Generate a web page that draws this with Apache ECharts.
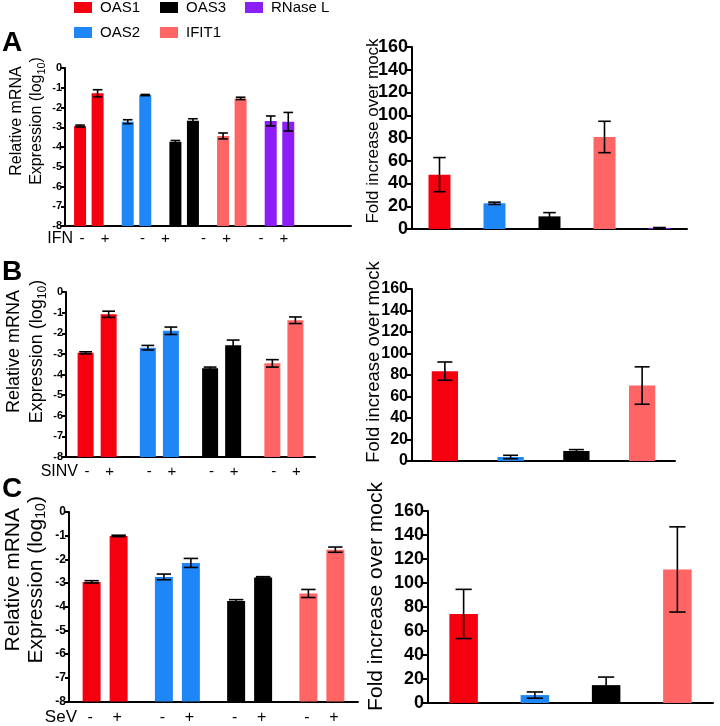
<!DOCTYPE html>
<html>
<head>
<meta charset="utf-8">
<title>OAS / IFIT1 expression</title>
<script src="https://cdn.jsdelivr.net/npm/echarts@6/dist/echarts.min.js"></script>
<style>
  html, body { margin: 0; padding: 0; background: #fff; }
  #chart { width: 720px; height: 726px; }
</style>
</head>
<body>
<div id="chart"></div>
<script>
// genes per panel
var genesA = ['OAS1', 'OAS2', 'OAS3', 'IFIT1', 'RNase L'];
var genesBC = ['OAS1', 'OAS2', 'OAS3', 'IFIT1'];
var treatments = ['IFN', 'SINV', 'SeV'];
var panelLetters = ['A', 'B', 'C'];
var signLabels = ['-', '+'];

// relative mRNA expression (log10), mock (-) and treated (+), with error
var ifnMock = [-2.94, -2.72, -3.73, -3.44, -2.68];
var ifnMockErr = [0.05, 0.1, 0.06, 0.15, 0.25];
var ifnTreat = [-1.28, -1.37, -2.67, -1.54, -2.72];
var ifnTreatErr = [0.18, 0.03, 0.1, 0.06, 0.47];

var sinvMock = [-2.95, -2.7, -3.7, -3.46];
var sinvMockErr = [0.05, 0.11, 0.06, 0.18];
var sinvTreat = [-1.08, -1.88, -2.58, -1.37];
var sinvTreatErr = [0.15, 0.18, 0.25, 0.16];

var sevMock = [-2.95, -2.74, -3.76, -3.44];
var sevMockErr = [0.05, 0.12, 0.06, 0.17];
var sevTreat = [-1.01, -2.15, -2.76, -1.59];
var sevTreatErr = [0.03, 0.19, 0.03, 0.11];

// fold increase over mock
var ifnFold = [47.8, 22.6, 11.1, 80.9, 1];
var ifnFoldErr = [15, 1, 3.3, 13.8, 0.3];
var sinvFold = [83.6, 3.7, 9.3, 70.2];
var sinvFoldErr = [8.5, 1.6, 1.3, 17.4];
var sevFold = [74.2, 6.6, 14.9, 111.3];
var sevFoldErr = [20.5, 2.6, 6.7, 35.5];

var logTicks = { min: -8, max: 0, step: 1 };
var foldTicks = { min: 0, max: 160, step: 20 };

var geneColor = {
  'OAS1': '#f5000f',
  'OAS2': '#1f86f7',
  'OAS3': '#000000',
  'IFIT1': '#ff6565',
  'RNase L': '#8b1ef6'
};

var panels = [
  { genes: genesA, mock: ifnMock, mockErr: ifnMockErr, treat: ifnTreat, treatErr: ifnTreatErr, fold: ifnFold, foldErr: ifnFoldErr },
  { genes: genesBC, mock: sinvMock, mockErr: sinvMockErr, treat: sinvTreat, treatErr: sinvTreatErr, fold: sinvFold, foldErr: sinvFoldErr },
  { genes: genesBC, mock: sevMock, mockErr: sevMockErr, treat: sevTreat, treatErr: sevTreatErr, fold: sevFold, foldErr: sevFoldErr }
];

// layout, one entry per row
var layout = [
  { left: { left: 65, top: 68, width: 286, height: 158 }, extraCats: 1, barW: 0.252, gap: 0.46,
    right: { left: 412, top: 47, width: 275, height: 182 },
    letterTop: 29, yLabel: 11, titleFont: 16, titleLH: 20, titleGap: 18, titleShift: 26,
    foldFont: 17, foldGap: 30, foldShift: 7, foldLabel: 18,
    signFont: 15, signGap: 13, signMargin: 5, signShift: [4.7, 17.5, null, -16.8, -7, null],
    treatFont: 16, treatGap: -8, treatDown: 13 },
  { left: { left: 66, top: 292, width: 249, height: 165 }, extraCats: 0, barW: 0.257, gap: 0.44,
    right: { left: 412, top: 289, width: 263, height: 172 },
    letterTop: 258, yLabel: 11, titleFont: 18, titleLH: 23, titleGap: 17, titleShift: 23,
    foldFont: 18.5, foldGap: 29, foldShift: 13, foldLabel: 16,
    signFont: 15, signGap: 12.5, signMargin: 7, signShift: [1.2, 1.2, 1.2, 1.2],
    treatFont: 16, treatGap: -12, treatDown: 15 },
  { left: { left: 69, top: 512, width: 289, height: 190 }, extraCats: 0, barW: 0.249, gap: 0.5,
    right: { left: 428, top: 511, width: 285, height: 192 },
    letterTop: 475, yLabel: 12, titleFont: 21, titleLH: 23.5, titleGap: 21, titleShift: 27,
    foldFont: 21, foldGap: 41, foldShift: 10.5, foldLabel: 18,
    signFont: 16, signGap: 17, signMargin: 8, signShift: [-1.5, -1.5, -1.5, -1.5],
    treatFont: 17, treatGap: -8, treatDown: 16 }
];

var black = '#000';
var axisLineStyle = { color: black, width: 2 };

function errorRender(frac, gap, slot, nSlots, capRatio) {
  return function (params, api) {
    var cat = api.value(0);
    var top = api.coord([cat, api.value(2)]);
    var bot = api.coord([cat, api.value(1)]);
    var band = api.size([1, 0])[0];
    var bw = band * frac;
    var total = bw * nSlots + bw * gap * (nSlots - 1);
    var x = top[0] - total / 2 + bw / 2 + slot * bw * (1 + gap);
    var h = bw * capRatio / 2;
    var style = { stroke: black, lineWidth: 1.6 };
    return {
      type: 'group',
      children: [
        { type: 'line', shape: { x1: x, y1: top[1], x2: x, y2: bot[1] }, style: style },
        { type: 'line', shape: { x1: x - h, y1: top[1], x2: x + h, y2: top[1] }, style: style },
        { type: 'line', shape: { x1: x - h, y1: bot[1], x2: x + h, y2: bot[1] }, style: style }
      ]
    };
  };
}

var grids = [], xAxes = [], yAxes = [], series = [], titles = [];

panels.forEach(function (p, i) {
  var L = layout[i];
  var gl = grids.length;
  grids.push(L.left, L.right);
  titles.push({ text: panelLetters[i], left: 2, top: L.letterTop, padding: 0,
    textStyle: { fontSize: 28, fontWeight: 'bold', color: black } });

  // ----- left: log10 expression -----
  var cats = p.genes.slice();
  for (var k = 0; k < L.extraCats; k++) cats.push('');
  var nGenes = p.genes.length;
  var rich = {
    n: { width: 10, align: 'center', fontSize: L.signFont, color: black },
    g: { width: L.signGap },
    p: { width: 10, align: 'center', fontSize: L.signFont, color: black }
  };
  L.signShift.forEach(function (s, j) {
    if (s != null) rich['sp' + j] = { width: Math.abs(s) * 2, fontSize: L.signFont };
  });
  var shifts = L.signShift;
  xAxes.push({
    gridIndex: gl, type: 'category', data: cats,
    axisLine: { lineStyle: axisLineStyle },
    axisTick: { alignWithLabel: true, length: 4, lineStyle: axisLineStyle,
      interval: function (idx) { return idx < nGenes; } },
    axisLabel: {
      interval: 0, margin: L.signMargin, hideOverlap: false,
      formatter: function (v, idx) {
        var s = shifts[idx];
        if (s == null) return '';
        var body = '{n|' + signLabels[0] + '}{g| }{p|' + signLabels[1] + '}';
        return s >= 0 ? '{sp' + idx + '| }' + body : body + '{sp' + idx + '| }';
      },
      rich: rich
    },
    name: treatments[i], nameLocation: 'start', nameGap: L.treatGap, nameMoveOverlap: false,
    nameTextStyle: { fontSize: L.treatFont, color: black, verticalAlign: 'top', align: 'right',
      padding: [L.treatDown - L.treatFont / 2, 0, 0, 0] }
  });
  yAxes.push({
    gridIndex: gl, type: 'value',
    min: 0, max: logTicks.max - logTicks.min, interval: logTicks.step,
    splitLine: { show: false },
    axisLine: { show: true, lineStyle: axisLineStyle },
    axisTick: { show: true, length: 4, lineStyle: axisLineStyle },
    axisLabel: { margin: 3, fontSize: L.yLabel, fontWeight: 'bold', color: black,
      formatter: function (v) { return String(v + logTicks.min); } },
    name: '{t|Relative mRNA}\n{t|Expression (log}{s|10}{t|)}',
    nameLocation: 'middle', nameRotate: 90, nameGap: L.titleGap, nameMoveOverlap: false,
    nameTextStyle: {
      color: black, padding: [0, 0, 0, L.titleShift * 2],
      rich: {
        t: { fontSize: L.titleFont, lineHeight: L.titleLH, color: black },
        s: { fontSize: L.titleFont * 0.68, lineHeight: L.titleLH, verticalAlign: 'bottom', color: black }
      }
    }
  });

  var shiftUp = -logTicks.min;
  [[p.mock, p.mockErr], [p.treat, p.treatErr]].forEach(function (pair, slot) {
    series.push({
      type: 'bar', name: signLabels[slot], xAxisIndex: gl, yAxisIndex: gl,
      barWidth: (L.barW * 100) + '%', barGap: (L.gap * 100) + '%',
      data: pair[0].map(function (v, j) {
        return { value: v + shiftUp, itemStyle: { color: geneColor[p.genes[j]] } };
      })
    });
    series.push({
      type: 'custom', xAxisIndex: gl, yAxisIndex: gl, z: 10,
      renderItem: errorRender(L.barW, L.gap, slot, 2, 0.8),
      data: pair[0].map(function (v, j) {
        return [j, v - pair[1][j] + shiftUp, v + pair[1][j] + shiftUp];
      })
    });
  });

  // ----- right: fold increase -----
  var gr = gl + 1;
  xAxes.push({
    gridIndex: gr, type: 'category', data: p.genes,
    axisLine: { lineStyle: axisLineStyle },
    axisTick: { alignWithLabel: true, length: 5, lineStyle: axisLineStyle },
    axisLabel: { show: false }
  });
  yAxes.push({
    gridIndex: gr, type: 'value', min: foldTicks.min, max: foldTicks.max, interval: foldTicks.step,
    splitLine: { show: false },
    axisLine: { show: true, lineStyle: axisLineStyle },
    axisTick: { show: true, length: 5, lineStyle: axisLineStyle },
    axisLabel: { margin: 4, fontSize: L.foldLabel, fontWeight: 'bold', color: black },
    name: 'Fold increase over mock', nameLocation: 'middle', nameRotate: 90, nameGap: L.foldGap,
    nameMoveOverlap: false,
    nameTextStyle: { fontSize: L.foldFont, color: black, padding: [0, 0, 0, L.foldShift * 2] }
  });
  series.push({
    type: 'bar', name: 'fold', xAxisIndex: gr, yAxisIndex: gr, barWidth: '40%',
    data: p.fold.map(function (v, j) {
      return { value: v, itemStyle: { color: geneColor[p.genes[j]] } };
    })
  });
  series.push({
    type: 'custom', xAxisIndex: gr, yAxisIndex: gr, z: 10,
    renderItem: errorRender(0.4, 0, 0, 1, 0.57),
    data: p.fold.map(function (v, j) {
      return [j, Math.max(0, v - p.foldErr[j]), v + p.foldErr[j]];
    })
  });
});

// empty series only to feed the legend
genesA.forEach(function (g) {
  series.push({ type: 'line', name: g, xAxisIndex: 0, yAxisIndex: 0, data: [],
    color: geneColor[g], itemStyle: { color: geneColor[g] }, lineStyle: { color: geneColor[g] } });
});

function legendCol(names, left) {
  return {
    data: names, orient: 'vertical', left: left, top: -1, padding: 0,
    icon: 'rect', itemWidth: 18, itemHeight: 11, itemGap: 8,
    itemStyle: { borderWidth: 0 },
    textStyle: { fontSize: 15, lineHeight: 17, color: black, padding: [0, 0, 0, 3] },
    selectedMode: false
  };
}

var chart = echarts.init(document.getElementById('chart'));
chart.setOption({
  animation: false,
  textStyle: { fontFamily: 'Liberation Sans, Arial, sans-serif' },
  title: titles,
  legend: [legendCol(['OAS1', 'OAS2'], 74), legendCol(['OAS3', 'IFIT1'], 160), legendCol(['RNase L'], 245)],
  grid: grids,
  xAxis: xAxes,
  yAxis: yAxes,
  series: series
});
</script>
</body>
</html>
